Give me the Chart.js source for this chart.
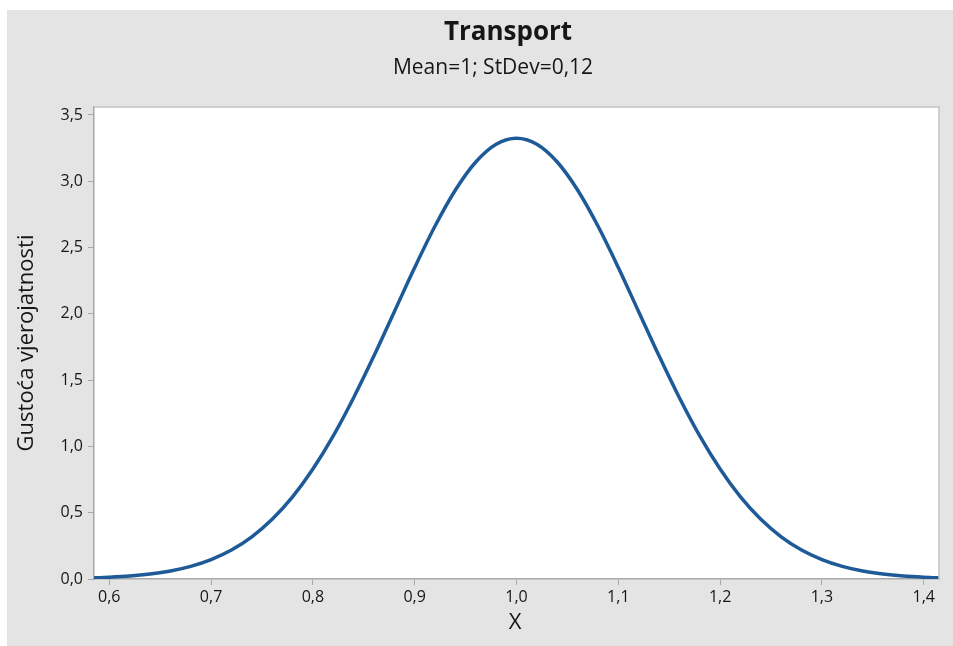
<!DOCTYPE html>
<html lang="hr">
<head>
    <meta charset="UTF-8">
    <title>Transport</title>
    <script src="https://cdn.jsdelivr.net/npm/chart.js"></script>
    <style>
        body {
            margin: 0;
            background: #fff;
            font-family: "Open Sans", sans-serif;
        }
        .frame {
            position: absolute;
            left: 7px;
            top: 10px;
            width: 946px;
            height: 636px;
            background: #e4e4e4;
        }
    </style>
</head>
<body>
    <div class="frame">
        <canvas id="densityChart" width="946" height="636"></canvas>
    </div>
    <script>
        // values
        const xValues = [0.58, 0.60, 0.62, 0.64, 0.66, 0.68, 0.70, 0.72, 0.74, 0.76, 0.78,
                         0.80, 0.82, 0.84, 0.86, 0.88, 0.90, 0.92, 0.94, 0.96, 0.98, 1.00,
                         1.02, 1.04, 1.06, 1.08, 1.10, 1.12, 1.14, 1.16, 1.18, 1.20, 1.22,
                         1.24, 1.26, 1.28, 1.30, 1.32, 1.34, 1.36, 1.38, 1.40, 1.42];
        const density = [0.007, 0.013, 0.022, 0.037, 0.060, 0.095, 0.146, 0.218, 0.318, 0.450, 0.619,
                         0.829, 1.079, 1.367, 1.683, 2.016, 2.349, 2.662, 2.934, 3.145, 3.279, 3.325,
                         3.279, 3.145, 2.934, 2.662, 2.349, 2.016, 1.683, 1.367, 1.079, 0.829, 0.619,
                         0.450, 0.318, 0.218, 0.146, 0.095, 0.060, 0.037, 0.022, 0.013, 0.007];
        const xTicks = [0.6, 0.7, 0.8, 0.9, 1.0, 1.1, 1.2, 1.3, 1.4];
        const yTicks = [0, 0.5, 1.0, 1.5, 2.0, 2.5, 3.0, 3.5];

        const chartTitle = 'Transport';
        const chartSubtitle = 'Mean=1; StDev=0,12';
        const xTitle = 'X';
        const yTitle = 'Gustoća vjerojatnosti';

        const fmt = v => v.toFixed(1).replace('.', ',');

        const labelsPlugin = {
            id: 'labels',
            afterDraw(chart) {
                const ctx = chart.ctx;
                const a = chart.chartArea;
                ctx.save();
                // light frame on top and right
                ctx.strokeStyle = '#c4c4c4';
                ctx.lineWidth = 1.5;
                ctx.beginPath();
                ctx.moveTo(a.left, a.top);
                ctx.lineTo(a.right, a.top);
                ctx.lineTo(a.right, a.bottom);
                ctx.stroke();

                ctx.fillStyle = '#161616';
                ctx.textAlign = 'center';
                ctx.textBaseline = 'middle';
                ctx.font = 'bold 26px "Open Sans"';
                ctx.fillText(chartTitle, 501, 23);
                ctx.font = '21px "Open Sans"';
                ctx.fillText(chartSubtitle, 486, 58);
                ctx.font = '22px "Open Sans"';
                ctx.fillText(xTitle, 508, 613);
                ctx.translate(20, (a.top + a.bottom) / 2);
                ctx.rotate(-Math.PI / 2);
                ctx.fillText(yTitle, 0, 0);
                ctx.restore();
            }
        };

        new Chart(document.getElementById('densityChart'), {
            type: 'scatter',
            data: {
                datasets: [{
                    data: xValues.map((x, i) => ({ x: x, y: density[i] })),
                    showLine: true,
                    borderColor: '#1d5a97',
                    borderWidth: 3.5,
                    pointRadius: 0,
                    cubicInterpolationMode: 'monotone'
                }]
            },
            options: {
                responsive: false,
                animation: false,
                layout: { padding: { left: 0, top: 97, right: 14, bottom: 0 } },
                plugins: {
                    legend: { display: false },
                    tooltip: { enabled: false }
                },
                scales: {
                    x: {
                        type: 'linear',
                        min: 0.585,
                        max: 1.415,
                        afterBuildTicks: s => { s.ticks = xTicks.map(v => ({ value: v })); },
                        afterFit: s => { s.height = 67; },
                        border: { color: '#a8a8a8', width: 1.5 },
                        grid: { drawOnChartArea: false, tickLength: 6, tickColor: '#a8a8a8' },
                        ticks: {
                            color: '#161616',
                            padding: 3,
                            maxRotation: 0,
                            font: { family: 'Open Sans', size: 16 },
                            callback: v => fmt(v)
                        }
                    },
                    y: {
                        min: 0,
                        max: 3.56,
                        afterBuildTicks: s => { s.ticks = yTicks.map(v => ({ value: v })); },
                        afterFit: s => { s.width = 87; },
                        border: { color: '#a8a8a8', width: 1.5 },
                        grid: { drawOnChartArea: false, tickLength: 6, tickColor: '#a8a8a8' },
                        ticks: {
                            color: '#161616',
                            padding: 5,
                            font: { family: 'Open Sans', size: 16 },
                            callback: v => fmt(v)
                        }
                    }
                }
            },
            plugins: [
                {
                    id: 'plotBg',
                    beforeDraw(chart) {
                        const a = chart.chartArea;
                        chart.ctx.save();
                        chart.ctx.fillStyle = '#fff';
                        chart.ctx.fillRect(a.left, a.top, a.right - a.left, a.bottom - a.top);
                        chart.ctx.restore();
                    }
                },
                labelsPlugin
            ]
        });
    </script>
</body>
</html>
